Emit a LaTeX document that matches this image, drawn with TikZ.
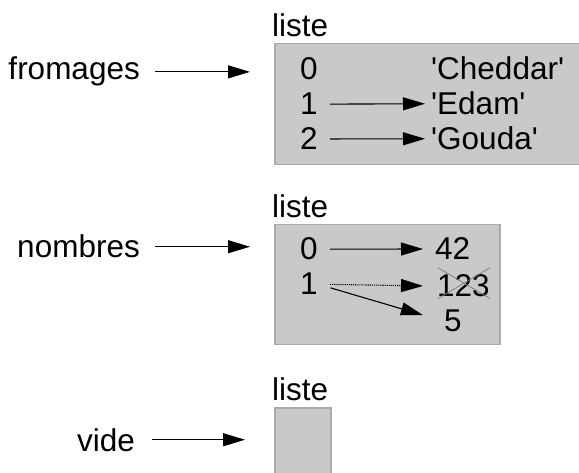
\documentclass[tikz,border=0pt]{standalone}
\usepackage{fontspec}
\setmainfont{Liberation Sans}
\usetikzlibrary{arrows.meta}

\definecolor{boxfill}{HTML}{C9C9C9}
\definecolor{boxline}{HTML}{ABABAB}
\newcommand{\qstr}[1]{\textquotesingle#1\textquotesingle}

\tikzset{
  txt/.style={inner sep=0pt, font=\fontsize{31.5}{35}\selectfont},
  listbox/.style={draw=boxline, fill=boxfill, line width=1.5pt, anchor=north west, inner sep=0pt},
  ptr/.style={-{Triangle[length=22pt,width=13pt]}, line width=1.1pt},
  crossout/.style={draw=gray, line width=0.8pt},
}

\begin{document}
\begin{tikzpicture}[x=1pt,y=-1pt]
    \useasboundingbox (0,0) rectangle (579,473);
    \clip (0,0) rectangle (579,473);

    % the three list boxes with their titles
    \node[listbox, minimum width=310pt, minimum height=121pt] (box1) at (274,43) {};
    \node[listbox, minimum width=225pt, minimum height=120pt] (box2) at (274,224) {};
    \node[listbox, minimum width=56pt, minimum height=90pt] (box3) at (274,407) {};
    \node[txt, anchor=base west] (liste1) at (272,37) {liste};
    \node[txt, anchor=base west] (liste2) at (272,218) {liste};
    \node[txt, anchor=base west] (liste3) at (272,400) {liste};

    % variable names
    \node[txt, anchor=base east] (fromages) at (140,80) {fromages};
    \node[txt, anchor=base east] (nombres) at (140,258) {nombres};
    \node[txt, anchor=base east] (vide) at (135,451) {vide};

    \draw[ptr, shorten <=15pt, shorten >=24pt] (fromages.east) -- (fromages.east -| box1.west);
    \draw[ptr, shorten <=15pt, shorten >=24pt] (nombres.east) -- (nombres.east -| box2.west);
    \draw[ptr, shorten <=17pt, shorten >=29pt] (vide.east) -- (vide.east -| box3.west);

    % fromages: indices and values
    \node[txt, anchor=base] (f0) at (309,80) {0};
    \node[txt, anchor=base] (f1) at (309,115) {1};
    \node[txt, anchor=base] (f2) at (309,150) {2};
    \node[txt, anchor=base west] (cheddar) at (431,80) {\qstr{Cheddar}};
    \node[txt, anchor=base west] (edam) at (431,115) {\qstr{Edam}};
    \node[txt, anchor=base west] (gouda) at (431,150) {\qstr{Gouda}};

    \draw[ptr, shorten <=12pt, shorten >=6pt] (f1.east) -- (edam.west);
    \draw[ptr, shorten <=12pt, shorten >=6pt] (f2.east) -- (gouda.west);

    % nombres: indices and values
    \node[txt, anchor=base] (n0) at (309,260) {0};
    \node[txt, anchor=base] (n1) at (309,295) {1};
    \node[txt, anchor=base west] (v42) at (435,260) {42};
    \node[txt, anchor=base west] (v123) at (437,297) {123};
    \node[txt, anchor=base west] (v5) at (444,332) {5};

    \draw[ptr, shorten <=12pt, shorten >=12pt] (n0.east) -- (v42.west);
    \draw[ptr, densely dotted, shorten <=12pt, shorten >=14pt] (n1.east) -- (v123.west);
    \draw[ptr, shorten <=13pt, shorten >=22pt] (n1.east) -- (v5.west);

    % 123 is crossed out
    \draw[crossout] ([shift={(1,-7)}]v123.north west) -- ([shift={(0,1)}]v123.south east);
    \draw[crossout] ([shift={(1,1)}]v123.south west) -- ([shift={(0,-7)}]v123.north east);
\end{tikzpicture}
\end{document}
